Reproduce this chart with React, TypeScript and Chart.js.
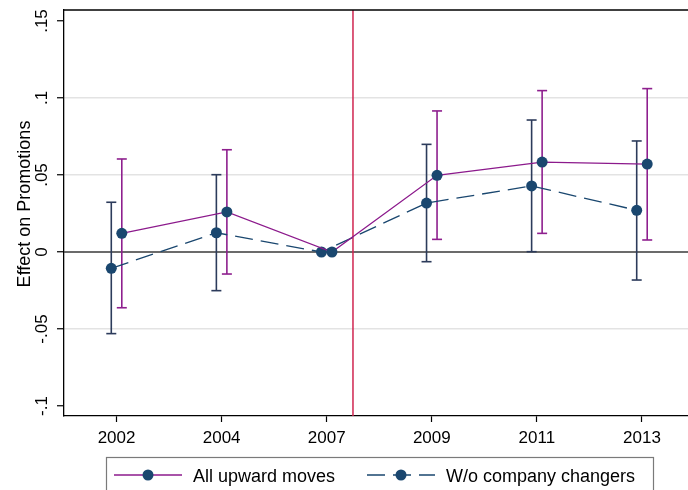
import React, { useEffect, useRef } from "react";
import { Chart, registerables } from "chart.js";

Chart.register(...registerables);

// Survey years on the x axis
const categories = ["2002", "2004", "2007", "2009", "2011", "2013"];

// All upward moves: point estimates and 95% confidence bounds
const allMoves = [0.0121, 0.026, 0, 0.0498, 0.0584, 0.0571];
const allLower = [-0.0362, -0.0143, null, 0.0082, 0.0121, 0.0078];
const allUpper = [0.0604, 0.0664, null, 0.0916, 0.1048, 0.1061];

// Without company changers: point estimates and 95% confidence bounds
const noChangers = [-0.0106, 0.0125, 0, 0.0318, 0.0429, 0.0271];
const noLower = [-0.053, -0.0251, null, -0.0063, 0.0002, -0.0182];
const noUpper = [0.0323, 0.0502, null, 0.0699, 0.0857, 0.0721];

// Y axis ticks
const yTickValues = [-0.1, -0.05, 0, 0.05, 0.1, 0.15];
const yTickLabels = ["-.1", "-.05", "0", ".05", ".1", ".15"];
const gridValues = [-0.05, 0.05, 0.1];

// Reform marker between 2007 and 2009
const reformPosition = 2.25;

const seriesNames = ["All upward moves", "W/o company changers"];

const FONT = "'Liberation Sans', Arial, Helvetica, sans-serif";
const NAVY = "#1a476f";
const PURPLE = "#8c1a8c";
const CI_NAVY = "#2c3b5b";
const CI_PURPLE = "#8e1f8e";
const RED = "#d02550";
const OFFSET = 0.05;
const DASH = [18, 8];

const overlayPlugin = {
  id: "overlay",
  beforeDatasetsDraw(chart: any) {
    const { ctx, chartArea: a, scales } = chart;
    const x = scales.x;
    const y = scales.y;
    ctx.save();
    const line = (x1: number, y1: number, x2: number, y2: number) => {
      ctx.beginPath();
      ctx.moveTo(x1, y1);
      ctx.lineTo(x2, y2);
      ctx.stroke();
    };
    // zero reference line
    const y0 = y.getPixelForValue(0);
    ctx.strokeStyle = "#3a3a3a";
    ctx.lineWidth = 1.5;
    line(a.left, y0, a.right, y0);
    // reform line
    const xr = x.getPixelForValue(reformPosition);
    ctx.strokeStyle = RED;
    ctx.lineWidth = 1.5;
    line(xr, a.top, xr, a.bottom);

    // confidence intervals
    const drawCI = (lo: (number | null)[], hi: (number | null)[], off: number, color: string) => {
      ctx.strokeStyle = color;
      ctx.lineWidth = 1.6;
      lo.forEach((l, i) => {
        const h = hi[i];
        if (l === null || h === null) return;
        const px = x.getPixelForValue(i + off);
        const pl = y.getPixelForValue(l);
        const ph = y.getPixelForValue(h);
        line(px, pl, px, ph);
        line(px - 5, pl, px + 5, pl);
        line(px - 5, ph, px + 5, ph);
      });
    };
    drawCI(noLower, noUpper, -OFFSET, CI_NAVY);
    drawCI(allLower, allUpper, OFFSET, CI_PURPLE);
    ctx.restore();
  },
  afterDraw(chart: any) {
    const { ctx, chartArea: a, scales } = chart;
    const y = scales.y;
    ctx.save();
    // top frame line
    ctx.strokeStyle = "#000";
    ctx.lineWidth = 1.3;
    ctx.beginPath();
    ctx.moveTo(a.left - 0.65, a.top);
    ctx.lineTo(a.right, a.top);
    ctx.stroke();

    // rotated y tick labels
    ctx.fillStyle = "#000";
    ctx.font = `17px ${FONT}`;
    ctx.textAlign = "center";
    ctx.textBaseline = "alphabetic";
    yTickValues.forEach((v, i) => {
      const py = y.getPixelForValue(v);
      ctx.save();
      ctx.translate(47, py);
      ctx.rotate(-Math.PI / 2);
      ctx.fillText(yTickLabels[i], 0, 0);
      ctx.restore();
    });

    // y axis title
    ctx.font = `18px ${FONT}`;
    ctx.save();
    ctx.translate(30, 204);
    ctx.rotate(-Math.PI / 2);
    ctx.fillText("Effect on Promotions", 0, 0);
    ctx.restore();

    // legend
    ctx.strokeStyle = "#7a7a7a";
    ctx.lineWidth = 1.2;
    ctx.strokeRect(106.5, 457.5, 547, 60);
    const ly = 475;
    // first key
    ctx.strokeStyle = PURPLE;
    ctx.lineWidth = 1.3;
    ctx.beginPath();
    ctx.moveTo(114, ly);
    ctx.lineTo(182, ly);
    ctx.stroke();
    ctx.fillStyle = NAVY;
    ctx.beginPath();
    ctx.arc(148, ly, 5.5, 0, Math.PI * 2);
    ctx.fill();
    // second key
    ctx.strokeStyle = NAVY;
    ctx.setLineDash(DASH);
    ctx.beginPath();
    ctx.moveTo(367, ly);
    ctx.lineTo(435, ly);
    ctx.stroke();
    ctx.setLineDash([]);
    ctx.beginPath();
    ctx.arc(401, ly, 5.5, 0, Math.PI * 2);
    ctx.fill();

    ctx.fillStyle = "#000";
    ctx.font = `18px ${FONT}`;
    ctx.textAlign = "left";
    ctx.fillText(seriesNames[0], 193, 482);
    ctx.fillText(seriesNames[1], 446, 482);
    ctx.restore();
  },
};

export default function App() {
  const canvasRef = useRef<HTMLCanvasElement | null>(null);

  useEffect(() => {
    if (!canvasRef.current) return;
    const chart = new Chart(canvasRef.current, {
      type: "line",
      data: {
        datasets: [
          {
            label: seriesNames[0],
            data: allMoves.map((v, i) => ({ x: i + OFFSET, y: v })),
            borderColor: PURPLE,
            borderWidth: 1.3,
            pointRadius: 5.5,
            pointBackgroundColor: NAVY,
            pointBorderWidth: 0,
            tension: 0,
          },
          {
            label: seriesNames[1],
            data: noChangers.map((v, i) => ({ x: i - OFFSET, y: v })),
            borderColor: NAVY,
            borderWidth: 1.3,
            borderDash: DASH,
            pointRadius: 5.5,
            pointBackgroundColor: NAVY,
            pointBorderWidth: 0,
            tension: 0,
          },
        ],
      },
      options: {
        animation: false,
        responsive: false,
        devicePixelRatio: 1,
        layout: { padding: { top: 10, right: 3, left: 0, bottom: 0 } },
        plugins: {
          legend: { display: false },
          tooltip: { enabled: false },
        },
        scales: {
          x: {
            type: "linear",
            min: -0.5,
            max: 5.5,
            afterBuildTicks: (s: any) => {
              s.ticks = categories.map((_, i) => ({ value: i }));
            },
            afterFit: (s: any) => {
              s.height = 74;
            },
            ticks: {
              callback: (v: any) => categories[Math.round(Number(v))] ?? "",
              color: "#000",
              font: { family: FONT, size: 17 },
              padding: 6,
              maxRotation: 0,
              autoSkip: false,
            },
            grid: {
              drawOnChartArea: false,
              tickLength: 6,
              tickColor: "#000",
              tickWidth: 1.2,
            },
            border: { color: "#000", width: 1.3 },
          },
          y: {
            type: "linear",
            min: -0.1 - 10 / 1540,
            max: 0.15 + 11 / 1540,
            afterBuildTicks: (s: any) => {
              s.ticks = yTickValues.map((v) => ({ value: v }));
            },
            afterFit: (s: any) => {
              s.width = 64;
            },
            ticks: { display: false },
            grid: {
              color: (c: any) =>
                gridValues.some((g) => Math.abs(g - c.tick.value) < 1e-9) ? "#e3e3e3" : "rgba(0,0,0,0)",
              lineWidth: 1.5,
              tickLength: 7,
              tickColor: "#000",
              tickWidth: 1.2,
            },
            border: { color: "#000", width: 1.3 },
          },
        },
      } as any,
      plugins: [overlayPlugin],
    });
    return () => chart.destroy();
  }, []);

  return (
    <div style={{ position: "fixed", left: 0, top: 0, width: 700, height: 490, background: "#fff" }}>
      <canvas ref={canvasRef} width={700} height={490} />
    </div>
  );
}
